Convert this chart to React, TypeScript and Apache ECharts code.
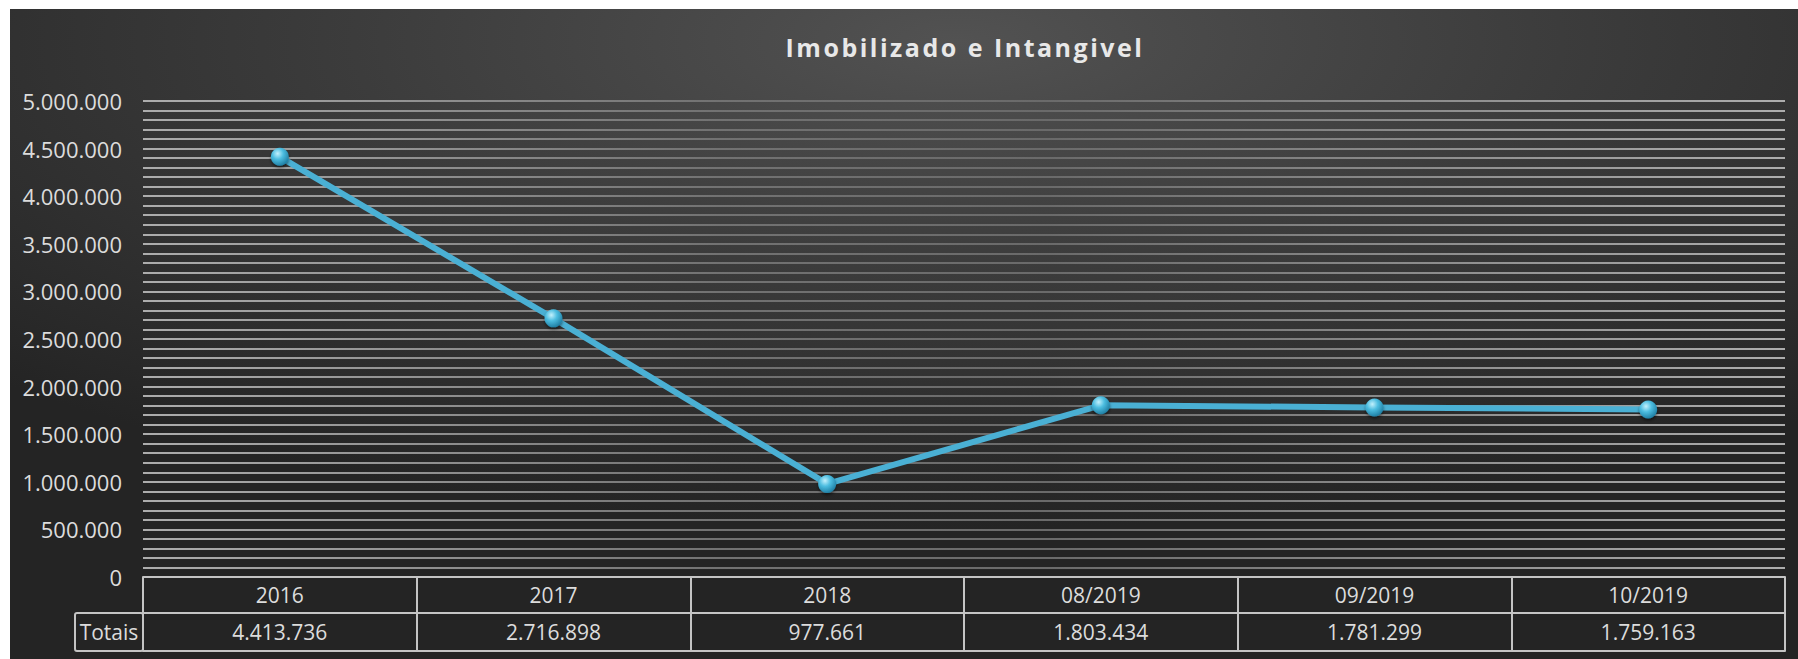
import React, { useEffect, useRef } from "react";
import * as echarts from "echarts";

const TITLE = "Imobilizado e Intangivel";
const categories = ["2016", "2017", "2018", "08/2019", "09/2019", "10/2019"];
const totals = [4413736, 2716898, 977661, 1803434, 1781299, 1759163];
const rowLabel = "Totais";
const yMax = 5000000;
const yInterval = 500000;

const fmt = (v: number) => String(Math.round(v)).replace(/\B(?=(\d{3})+(?!\d))/g, ".");

const W = 1788;
const H = 650;
const GL = 133;
const GR = 13;
const GT = 92;
const GB = 82;
const FONT = "'Open Sans', 'Noto Sans', sans-serif";
const TXT = "#dcdcdc";
const TABLE = "#c4c4c4";

export default function App() {
  const ref = useRef<HTMLDivElement>(null);
  useEffect(() => {
    if (!ref.current) return;
    const chart = echarts.init(ref.current, undefined, { renderer: "svg" });
    const gridLineColor = new echarts.graphic.LinearGradient(
      GL, 0, W - GR, 0,
      [
        { offset: 0, color: "#adadad" },
        { offset: 0.35, color: "#727272" },
        { offset: 0.55, color: "#6a6a6a" },
        { offset: 1, color: "#adadad" },
      ],
      true
    );
    const option: any = {
      animation: false,
      graphic: [
        {
          type: "rect",
          z: -100,
          silent: true,
          shape: { x: 0, y: 0, width: W, height: H },
          style: {
            fill: new echarts.graphic.RadialGradient(0.53, 0.05, 0.75, [
              { offset: 0, color: "#525252" },
              { offset: 0.45, color: "#3c3c3c" },
              { offset: 1, color: "#242424" },
            ]),
          },
        },
        {
          type: "rect",
          z: 10,
          shape: { x: 65, y: 604, width: GL - 65, height: 38, r: 2 },
          style: { fill: "none", stroke: TABLE, lineWidth: 2 },
        },
        {
          type: "text",
          z: 10,
          x: 99,
          y: 623,
          style: {
            text: rowLabel,
            fill: TXT,
            font: `21px ${FONT}`,
            textAlign: "center",
            textVerticalAlign: "middle",
          },
        },
        {
          type: "text",
          z: 10,
          x: 955,
          y: 38,
          style: {
            text: TITLE,
            fill: "#e8e8e8",
            font: `bold 25px ${FONT}`,
            textAlign: "center",
            textVerticalAlign: "middle",
            shadowColor: "rgba(0,0,0,0.8)",
            shadowBlur: 3,
            shadowOffsetX: 1,
            shadowOffsetY: 2,
          },
        },
      ],
      grid: { left: GL, right: GR, top: GT, bottom: GB, containLabel: false },
      xAxis: [
        {
          type: "category",
          data: categories,
          boundaryGap: true,
          position: "bottom",
          axisLine: { show: true, lineStyle: { color: TABLE, width: 2 } },
          axisTick: { show: true, length: 74, lineStyle: { color: TABLE, width: 2 } },
          axisLabel: {
            color: TXT,
            fontFamily: FONT,
            fontSize: 21,
            margin: 18,
            verticalAlign: "middle",
          },
          splitLine: { show: false },
        },
        {
          type: "category",
          data: totals.map(fmt),
          boundaryGap: true,
          position: "bottom",
          offset: 36,
          axisLine: { show: true, lineStyle: { color: TABLE, width: 2 } },
          axisTick: { show: false },
          axisLabel: {
            color: TXT,
            fontFamily: FONT,
            fontSize: 21,
            margin: 19,
            verticalAlign: "middle",
          },
        },
        {
          type: "category",
          data: categories,
          boundaryGap: true,
          position: "bottom",
          offset: 74,
          axisLine: { show: true, lineStyle: { color: TABLE, width: 2 } },
          axisTick: { show: false },
          axisLabel: { show: false },
        },
      ],
      yAxis: {
        type: "value",
        min: 0,
        max: yMax,
        interval: yInterval,
        axisLine: { show: false },
        axisTick: { show: false },
        axisLabel: {
          color: TXT,
          fontFamily: FONT,
          fontSize: 22,
          margin: 21,
          formatter: (v: number) => fmt(v),
        },
        splitLine: { show: true, lineStyle: { color: gridLineColor, width: 2 } },
        minorTick: { show: false, splitNumber: 5 },
        minorSplitLine: { show: true, lineStyle: { color: gridLineColor, width: 2 } },
      },
      series: [
        {
          type: "line",
          xAxisIndex: 0,
          data: totals,
          symbol: "circle",
          symbolSize: 18,
          z: 5,
          lineStyle: { color: "#4ab0d4", width: 6 },
          itemStyle: {
            color: new echarts.graphic.RadialGradient(0.38, 0.32, 0.7, [
              { offset: 0, color: "#c2f0fc" },
              { offset: 0.45, color: "#4cbde0" },
              { offset: 1, color: "#1f7ea3" },
            ]),
            borderWidth: 0,
            shadowColor: "rgba(0,0,0,0.5)",
            shadowBlur: 3,
            shadowOffsetY: 2,
          },
        },
      ],
    };
    chart.setOption(option);
    const texts = ref.current.querySelectorAll("text");
    texts.forEach((t) => {
      if (t.textContent === TITLE) t.setAttribute("letter-spacing", "2.5");
    });
    return () => chart.dispose();
  }, []);
  return (
    <div
      ref={ref}
      style={{ position: "absolute", left: 10, top: 9, width: W, height: H, background: "#2e2e2e" }}
    />
  );
}
